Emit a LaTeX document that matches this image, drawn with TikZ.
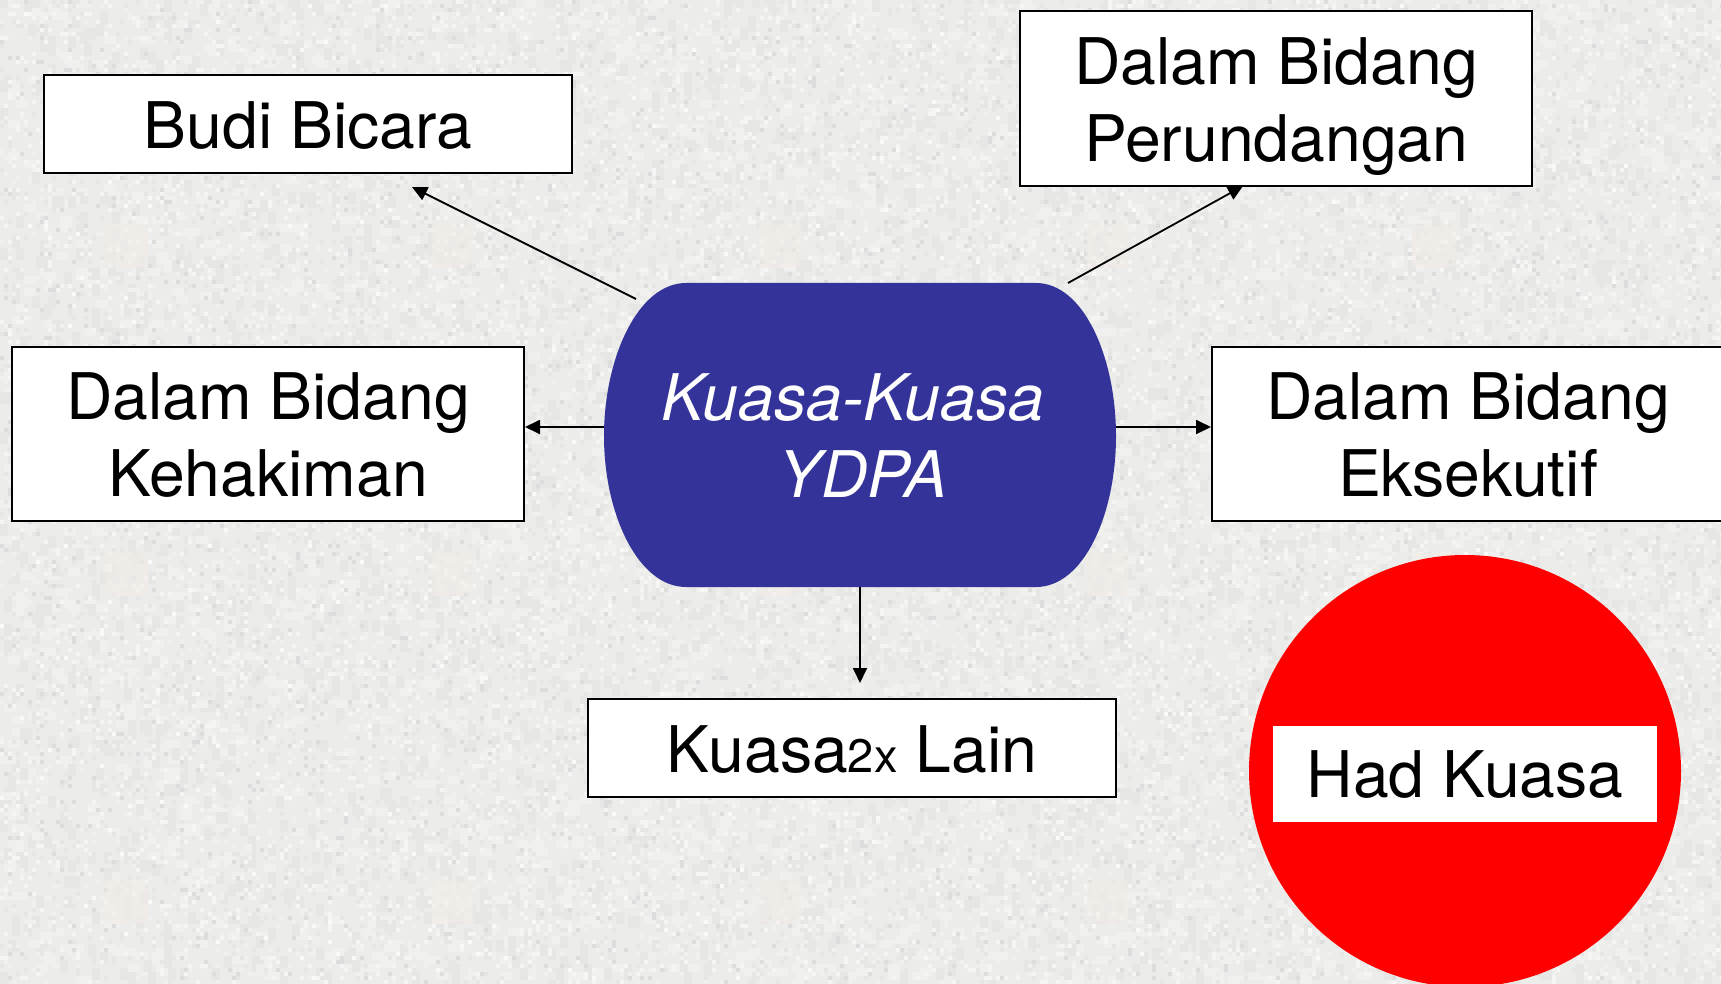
\documentclass[tikz,border=0pt]{standalone}
\usepackage{fontspec}
\setmainfont{TeX Gyre Heros}
\usetikzlibrary{arrows.meta}
\definecolor{bgbase}{HTML}{ECECEB}
\definecolor{ydpablue}{HTML}{333399}
\definecolor{noiseA}{HTML}{F5F5F4}
\definecolor{noiseB}{HTML}{F0F0EF}
\definecolor{noiseC}{HTML}{E6E6E5}
\definecolor{noiseD}{HTML}{DDDDDD}
\definecolor{noiseE}{HTML}{F9F9F8}
\definecolor{warm}{HTML}{F2EDE7}
\pgfmathsetseed{4242}
\newcount\nk
\newcommand{\noisefill}[4]{% colour, count, cell, grid step
  \pgfsetfillcolor{#1}%
  \nk=0
  \loop\ifnum\nk<#2
    \pgfmathrandominteger{\rx}{0}{430}%
    \pgfmathrandominteger{\ry}{0}{246}%
    \pgfpathrectangle{\pgfpoint{\rx*4pt}{\ry*4pt}}{\pgfpoint{#3pt}{#4pt}}%
    \advance\nk by 1
  \repeat
  \pgfusepath{fill}%
}
\tikzset{
  lab/.style={font=\fontsize{64.3}{77}\selectfont,align=center,inner sep=0pt},
  wbox/.style={lab,draw=black,line width=2pt,fill=white},
  conn/.style={draw=black,line width=1.8pt,-{Triangle[length=15pt,width=14pt]}}
}
\newcommand{\twoup}{\rule{0pt}{63pt}}
\newcommand{\gdown}{\vphantom{g}}
\begin{document}
\begin{tikzpicture}[x=1pt,y=-1pt]
\useasboundingbox (0,0) rectangle (1721,984);
\fill[bgbase] (0,0) rectangle (1721,984);
\begin{scope}
\clip (0,0) rectangle (1721,984);
\begin{scope}[shift={(0,984)}]
\noisefill{noiseB}{3500}{12}{8}
\noisefill{noiseC}{3500}{8}{12}
\noisefill{noiseB}{6000}{4}{4}
\noisefill{noiseC}{7000}{4}{4}
\noisefill{noiseA}{6000}{4}{4}
\noisefill{noiseD}{2500}{4}{4}
\noisefill{noiseE}{600}{4}{4}
\end{scope}
\end{scope}
% faint watermark squares
\foreach \wx in {105,432,759,1086,1413}
  \foreach \wy in {225,553,881}
    \fill[warm,opacity=.5] (\wx,\wy) rectangle +(42,42);
% central shape
\fill[ydpablue] (686,283) -- (1036,283)
  .. controls (1084,283) and (1116,358) .. (1116,436)
  .. controls (1116,514) and (1084,587) .. (1036,587)
  -- (686,587)
  .. controls (638,587) and (604,514) .. (604,436)
  .. controls (604,358) and (638,283) .. (686,283) -- cycle;
\node[lab,text=white,font=\fontsize{64.3}{77}\selectfont\itshape] (ydpa) at (863,436) {Kuasa-Kuasa\hspace{20pt}\mbox{}\\YDPA};
% boxes
\node[wbox,minimum width=528pt,minimum height=98pt] (budi) at (308,124) {\rule{0pt}{49pt}Budi Bicara};
\node[wbox,minimum width=512pt,minimum height=175pt] (undang) at (1276,98.5) {\twoup Dalam Bidang\\Perundangan\gdown};
\node[wbox,minimum width=512pt,minimum height=174pt] (hakim) at (268,434) {\twoup Dalam Bidang\\Kehakiman\gdown};
\node[wbox,minimum width=512pt,minimum height=174pt] (eksek) at (1468,434) {\twoup Dalam Bidang\\Eksekutif\gdown};
\node[wbox,minimum width=528pt,minimum height=98pt] (lain) at (852,748) {\rule{0pt}{50pt}Kuasa{\fontsize{47}{47}\selectfont 2x} Lain};
% no-entry sign
\fill[red] (1465,771) circle (216);
\node[lab,fill=white,minimum width=384pt,minimum height=96pt] (had) at (1465,774) {\rule{0pt}{48pt}Had Kuasa};
% connectors
\coordinate (budiTail) at (636,299);
\coordinate (budiTip) at (412,187);
\coordinate (undangTail) at (1068,283);
\coordinate (undangTip) at (1243,186);
\coordinate (ydpaW) at (604,427);
\coordinate (ydpaE) at (1116,427);
\coordinate (ydpaS) at (860,587);
\coordinate (lainTip) at (860,683);
\draw[conn] (budiTail) -- (budiTip);
\draw[conn] (undangTail) -- (undangTip);
\draw[conn] (ydpaW) -- (hakim.east |- ydpaW);
\draw[conn] (ydpaE) -- (eksek.west |- ydpaE);
\draw[conn] (ydpaS) -- (lainTip);
\end{tikzpicture}
\end{document}
